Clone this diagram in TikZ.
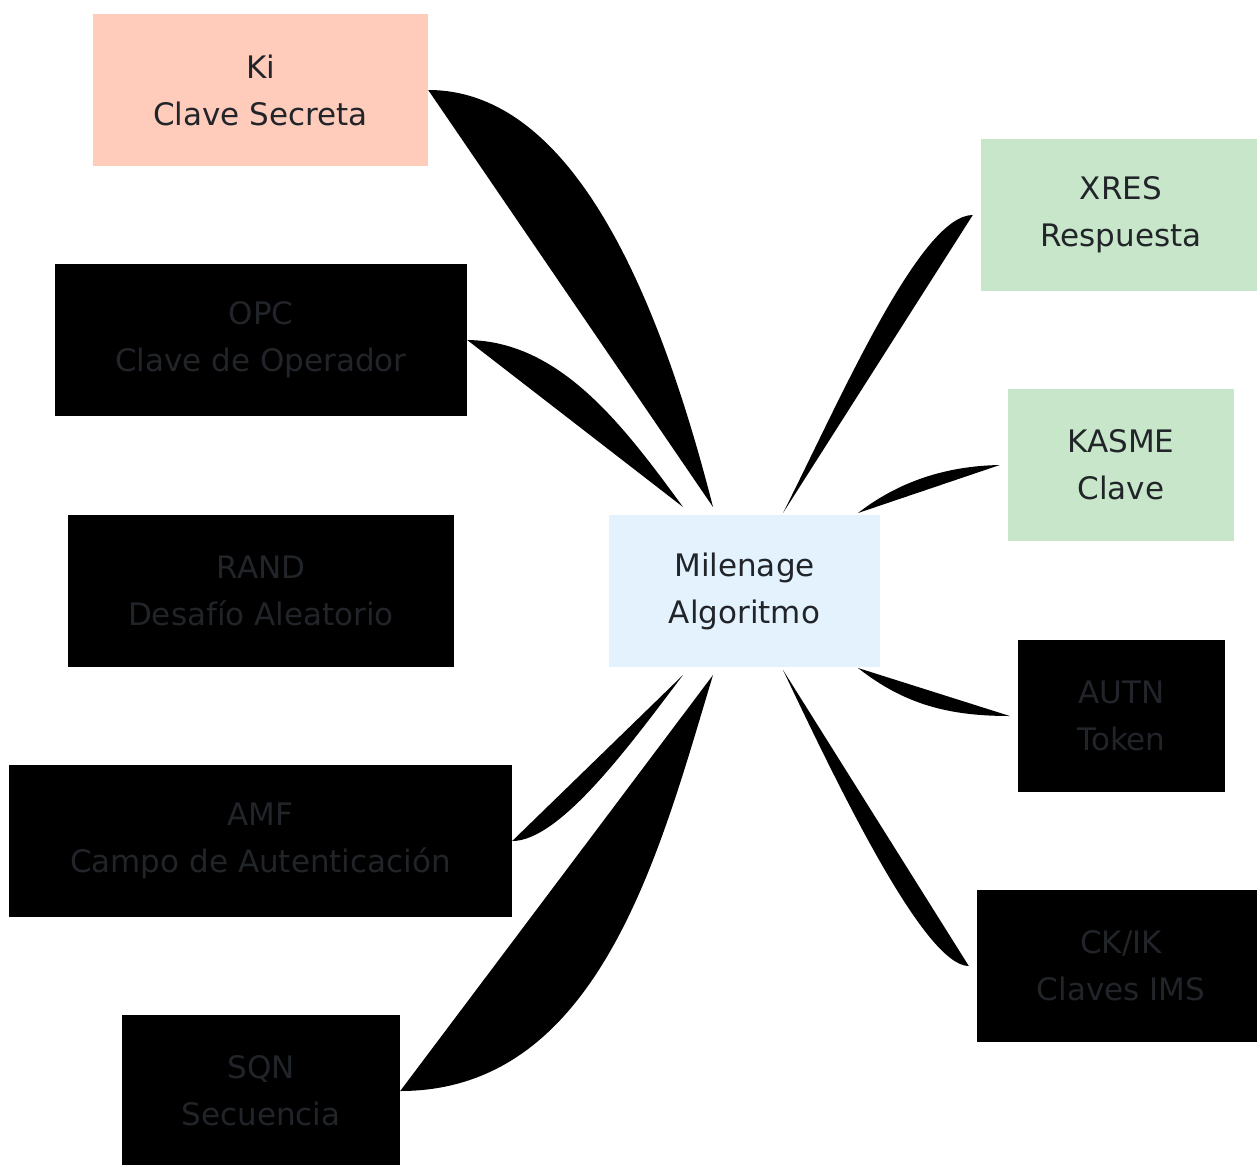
\documentclass[tikz,border=0pt]{standalone}
\usepackage{fontspec}
\setmainfont{DejaVu Sans}
\definecolor{secretfill}{HTML}{FFCCBC}
\definecolor{algofill}{HTML}{E3F2FD}
\definecolor{outfill}{HTML}{C8E6C9}
\definecolor{labeltext}{HTML}{212429}
\begin{document}
\begin{tikzpicture}[x=1pt, y=-1pt,
            box/.style={rectangle, fill=black, minimum height=152pt, inner sep=0pt, align=center, text=labeltext, font=\fontsize{31}{47}\selectfont},
            link/.style={fill=black}
            ]
            \fill[white] (0,0) rectangle (1257,1164);
            \useasboundingbox (0,0) rectangle (1257,1164);

            % inputs
            \node[box, fill=secretfill, minimum width=335pt] (ki) at (260.5,90) {Ki\\Clave Secreta};
            \node[box, minimum width=412pt] (opc) at (261,340) {OPC\\Clave de Operador};
            \node[box, minimum width=386pt] (rand) at (261,591) {RAND\\Desafío Aleatorio};
            \node[box, minimum width=503pt] (amf) at (260.5,841) {AMF\\Campo de Autenticación};
            \node[box, minimum width=278pt] (sqn) at (261,1091) {SQN\\Secuencia};
            % algorithm
            \node[box, fill=algofill, minimum width=271pt] (mil) at (744.5,591) {Milenage\\Algoritmo};
            % outputs
            \node[box, fill=outfill, minimum width=280pt] (xres) at (1121,215) {XRES\\Respuesta};
            \node[box, fill=outfill, minimum width=226pt] (kasme) at (1121,465) {KASME\\Clave};
            \node[box, minimum width=207pt] (autn) at (1121.5,716) {AUTN\\Token};
            \node[box, minimum width=288pt] (ckik) at (1121,966) {CK/IK\\Claves IMS};

            \coordinate (kiEnd) at (713,507);
            \coordinate (opcEnd) at (683,507);
            \coordinate (amfEnd) at (683,675);
            \coordinate (sqnEnd) at (713,675);
            \coordinate (xresEnd) at (783,513);
            \coordinate (kasmeEnd) at (858,513);
            \coordinate (autnEnd) at (858,668);
            \coordinate (ckikEnd) at (783,670);

            \fill[link] (ki.east) .. controls (560,90) and (650,260) .. (kiEnd) -- cycle;
            \fill[link] (opc.east) .. controls (560,341) and (623,425) .. (opcEnd) -- cycle;
            \fill[link] (amf.east) .. controls (560,841) and (630,745) .. (amfEnd) -- cycle;
            \fill[link] (sqn.east) .. controls (600,1091) and (660,850) .. (sqnEnd) -- cycle;
            \fill[link] ([xshift=-8pt]xres.west) .. controls (920,215) and (840,400) .. (xresEnd) -- cycle;
            \fill[link] ([xshift=-8pt]kasme.west) .. controls (945,466) and (898,482) .. (kasmeEnd) -- cycle;
            \fill[link] ([xshift=-8pt]autn.west) .. controls (950,716) and (905,705) .. (autnEnd) -- cycle;
            \fill[link] ([xshift=-8pt]ckik.west) .. controls (925,966) and (840,790) .. (ckikEnd) -- cycle;
            \end{tikzpicture}
\end{document}
